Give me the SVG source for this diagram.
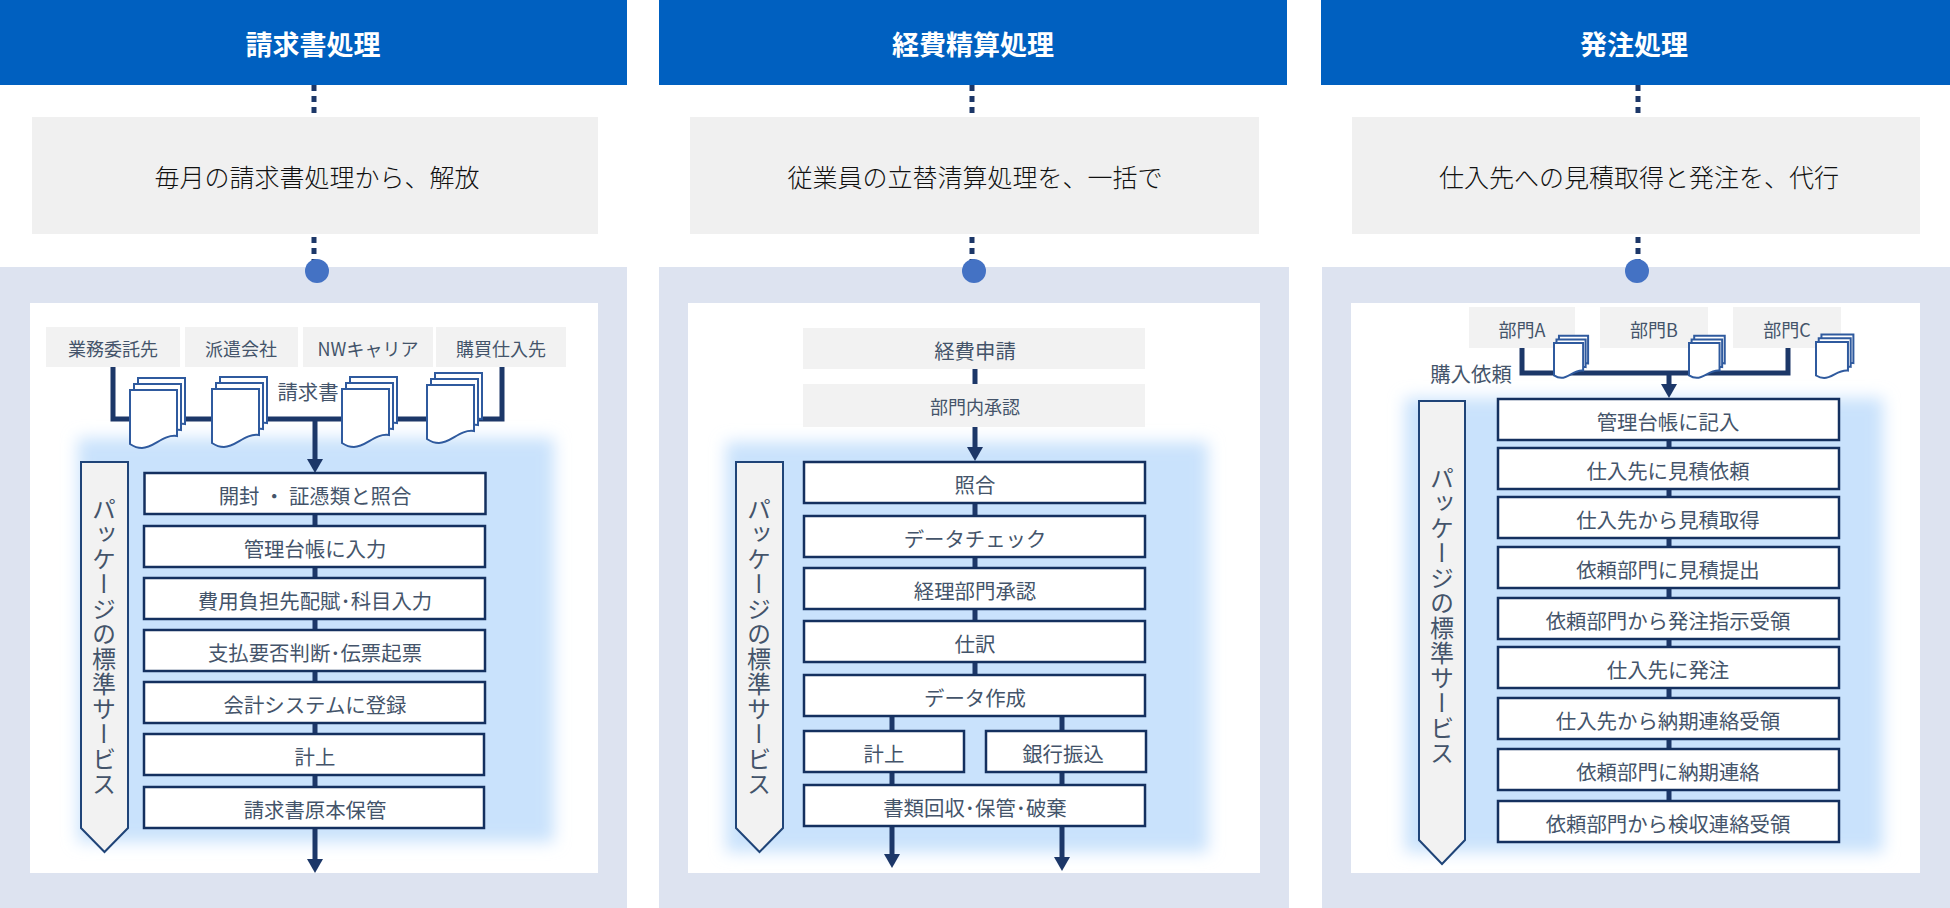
<svg xmlns="http://www.w3.org/2000/svg" width="1950" height="908" viewBox="0 0 1950 908">
<style>
text{font-family:"Noto Sans CJK JP","Noto Sans",sans-serif;text-anchor:middle;dominant-baseline:central}
.hd{fill:#0060c0}.hdt{fill:#fff;font-size:27px;font-weight:700}
.sub{fill:#f0f0f0}.subt{fill:#111;font-size:25px;font-weight:300}
.panel{fill:#dde3f0}.white{fill:#fff}.glow{fill:#c9e2fc;filter:url(#blur)}
.src{fill:#f2f2f2}.t{fill:#44546a;font-size:20.400px}.ts{fill:#44546a;font-size:18px}
.box{fill:#fff;stroke:#14305f;stroke-width:2.500}
.pkg{fill:#f2f2f2;stroke:#1f4478;stroke-width:2}
.pkgt{fill:#44546a;font-size:24px;writing-mode:vertical-rl;letter-spacing:1px}
.ln{fill:none;stroke:#1c3768;stroke-width:5}
.ar{fill:none;stroke:#1c3768;stroke-width:5;marker-end:url(#ah)}
.dot{fill:none;stroke:#1c3768;stroke-width:5;stroke-dasharray:6 5}
.circ{fill:#4472c4}
.sheet{fill:#fff;stroke:#2f5a9e;stroke-width:2;vector-effect:non-scaling-stroke}
</style>
<defs>
<filter id="blur" x="-15%" y="-15%" width="130%" height="130%"><feGaussianBlur stdDeviation="8"/></filter>
<marker id="ah" markerUnits="userSpaceOnUse" markerWidth="14" markerHeight="16" viewBox="0 0 14 16" refX="0" refY="8" orient="auto"><path d="M0 0L14 8L0 16Z" fill="#1c3768"/></marker>
<path id="sh" class="sheet" d="M0 0H47V46C33 44 24 58 12 58C7 58 3 56 0 54Z"/>
<g id="doc"><use href="#sh" x="8" y="-12"/><use href="#sh" x="4" y="-6"/><use href="#sh"/></g>
</defs>
<rect width="1950" height="908" fill="#fff"/>

<g id="backgrounds">
<rect class="panel" x="0" y="267" width="627" height="641"/>
<rect class="panel" x="659" y="267" width="630" height="641"/>
<rect class="panel" x="1322" y="267" width="628" height="641"/>
<rect class="white" x="30" y="303" width="568" height="570"/>
<rect class="white" x="688" y="303" width="572" height="570"/>
<rect class="white" x="1351" y="303" width="569" height="570"/>
<rect class="glow" x="78" y="438" width="476" height="404"/>
<rect class="glow" x="726" y="442" width="482" height="410"/>
<rect class="glow" x="1405" y="398" width="478" height="454"/>
</g>

<g id="connectors">
<path class="dot" d="M314 85V114M314 237V265"/>
<path class="dot" d="M972 85V114M972 237V265"/>
<path class="dot" d="M1638 85V114M1638 237V265"/>
<path class="ln" d="M113 367V419H502V367"/>
<path class="ar" d="M315 419V459"/>
<path class="ln" d="M315 514V786"/>
<path class="ar" d="M315 828V859"/>
<path class="ln" d="M975 369V384"/>
<path class="ar" d="M975 427V447"/>
<path class="ln" d="M975 504V675"/>
<path class="ln" d="M892 717V784M1062 717V784"/>
<path class="ar" d="M892 827V854"/>
<path class="ar" d="M1062 827V857"/>
<path class="ln" d="M1522 348V373H1788V348"/>
<path class="ar" d="M1669 373V384"/>
<path class="ln" d="M1669 440V801"/>
</g>

<g id="col1">
<g id="head1"><rect class="hd" x="0" y="0" width="627" height="85"/><text class="hdt" x="313" y="43">請求書処理</text></g>
<g id="sub1"><rect class="sub" x="32" y="117" width="566" height="117"/><text class="subt" x="317" y="176">毎月の請求書処理から、解放</text></g>
<ellipse id="dot1" class="circ" cx="317" cy="271" rx="12" ry="12"/>
<g id="s1a"><rect class="src" x="46" y="327" width="134" height="40"/><text class="ts" x="113" y="348">業務委託先</text></g>
<g id="s1b"><rect class="src" x="185" y="327" width="113" height="40"/><text class="ts" x="241" y="348">派遣会社</text></g>
<g id="s1c"><rect class="src" x="303" y="327" width="130" height="40"/><text class="ts" x="368" y="348">NWキャリア</text></g>
<g id="s1d"><rect class="src" x="436" y="327" width="130" height="40"/><text class="ts" x="501" y="348">購買仕入先</text></g>
<g id="docs1">
<use href="#doc" x="130" y="390"/><use href="#doc" x="212" y="389"/><use href="#doc" x="342" y="389"/><use href="#doc" x="427" y="385"/>
</g>
<text id="lbl1" class="t" x="308" y="391">請求書</text>
<g id="pkg1"><path class="pkg" d="M81 462H128V828L104.500 852L81 828Z"/><text class="pkgt" x="104" y="497" style="text-anchor:start">パッケージの標準サービス</text></g>
<g id="b11"><rect class="box" x="144.500" y="473" width="341" height="41"/><text class="t" x="315" y="495">開封 ・ 証憑類と照合</text></g>
<g id="b12"><rect class="box" x="144" y="526" width="341" height="41"/><text class="t" x="315" y="548">管理台帳に入力</text></g>
<g id="b13"><rect class="box" x="144" y="578" width="341" height="41"/><text class="t" x="315" y="600">費用負担先配賦･科目入力</text></g>
<g id="b14"><rect class="box" x="144" y="630" width="341" height="41"/><text class="t" x="315" y="652">支払要否判断･伝票起票</text></g>
<g id="b15"><rect class="box" x="144" y="682" width="341" height="41"/><text class="t" x="315" y="704">会計システムに登録</text></g>
<g id="b16"><rect class="box" x="144" y="734" width="340" height="41"/><text class="t" x="315" y="756">計上</text></g>
<g id="b17"><rect class="box" x="144" y="787" width="340" height="41"/><text class="t" x="315" y="809">請求書原本保管</text></g>
</g>

<g id="col2">
<g id="head2"><rect class="hd" x="659" y="0" width="628" height="85"/><text class="hdt" x="973" y="43">経費精算処理</text></g>
<g id="sub2"><rect class="sub" x="690" y="117" width="569" height="117"/><text class="subt" x="975" y="176">従業員の立替清算処理を、一括で</text></g>
<ellipse id="dot2" class="circ" cx="974" cy="271" rx="12" ry="12"/>
<g id="s2a"><rect class="src" x="803" y="328" width="342" height="41"/><text class="t" x="975" y="350">経費申請</text></g>
<g id="s2b"><rect class="src" x="803" y="384" width="342" height="43"/><text class="ts" x="975" y="406">部門内承認</text></g>
<g id="pkg2"><path class="pkg" d="M736 462H783V828L759.500 852L736 828Z"/><text class="pkgt" x="759" y="497" style="text-anchor:start">パッケージの標準サービス</text></g>
<g id="b21"><rect class="box" x="804" y="462" width="341" height="41"/><text class="t" x="975" y="484">照合</text></g>
<g id="b22"><rect class="box" x="804" y="516" width="341" height="41"/><text class="t" x="975" y="538">データチェック</text></g>
<g id="b23"><rect class="box" x="804" y="568" width="341" height="41"/><text class="t" x="975" y="590">経理部門承認</text></g>
<g id="b24"><rect class="box" x="804" y="621" width="341" height="41"/><text class="t" x="975" y="643">仕訳</text></g>
<g id="b25"><rect class="box" x="804" y="675" width="341" height="41"/><text class="t" x="975" y="697">データ作成</text></g>
<g id="b26"><rect class="box" x="804" y="731" width="160" height="41"/><text class="t" x="884" y="753">計上</text></g>
<g id="b27"><rect class="box" x="986" y="731" width="160" height="41"/><text class="t" x="1063" y="753">銀行振込</text></g>
<g id="b28"><rect class="box" x="804" y="785" width="341" height="41"/><text class="t" x="975" y="807">書類回収･保管･破棄</text></g>
</g>

<g id="col3">
<g id="head3"><rect class="hd" x="1321" y="0" width="629" height="85"/><text class="hdt" x="1634" y="43">発注処理</text></g>
<g id="sub3"><rect class="sub" x="1352" y="117" width="568" height="117"/><text class="subt" x="1639" y="176">仕入先への見積取得と発注を、代行</text></g>
<ellipse id="dot3" class="circ" cx="1637" cy="271" rx="12" ry="12"/>
<g id="s3a"><rect class="src" x="1469" y="307" width="106" height="41"/><text class="ts" x="1522" y="329">部門A</text></g>
<g id="s3b"><rect class="src" x="1600" y="307" width="108" height="41"/><text class="ts" x="1654" y="329">部門B</text></g>
<g id="s3c"><rect class="src" x="1733" y="307" width="108" height="41"/><text class="ts" x="1787" y="329">部門C</text></g>
<g id="docs3">
<use href="#doc" transform="translate(1554 343) scale(.62 .6)"/><use href="#doc" transform="translate(1689 343) scale(.65 .6)"/><use href="#doc" transform="translate(1816 342) scale(.68 .62)"/>
</g>
<text id="lbl3" class="t" x="1471" y="373">購入依頼</text>
<g id="pkg3"><path class="pkg" d="M1419 401H1465V840L1442 864L1419 840Z"/><text class="pkgt" x="1442" y="466" style="text-anchor:start">パッケージの標準サービス</text></g>
<g id="b31"><rect class="box" x="1498" y="399" width="341" height="41"/><text class="t" x="1668" y="421">管理台帳に記入</text></g>
<g id="b32"><rect class="box" x="1498" y="448" width="341" height="41"/><text class="t" x="1668" y="470">仕入先に見積依頼</text></g>
<g id="b33"><rect class="box" x="1498" y="497" width="341" height="41"/><text class="t" x="1668" y="519">仕入先から見積取得</text></g>
<g id="b34"><rect class="box" x="1498" y="547" width="341" height="41"/><text class="t" x="1668" y="569">依頼部門に見積提出</text></g>
<g id="b35"><rect class="box" x="1498" y="598" width="341" height="41"/><text class="t" x="1668" y="620">依頼部門から発注指示受領</text></g>
<g id="b36"><rect class="box" x="1498" y="647" width="341" height="41"/><text class="t" x="1668" y="669">仕入先に発注</text></g>
<g id="b37"><rect class="box" x="1498" y="698" width="341" height="41"/><text class="t" x="1668" y="720">仕入先から納期連絡受領</text></g>
<g id="b38"><rect class="box" x="1498" y="749" width="341" height="41"/><text class="t" x="1668" y="771">依頼部門に納期連絡</text></g>
<g id="b39"><rect class="box" x="1498" y="801" width="341" height="41"/><text class="t" x="1668" y="823">依頼部門から検収連絡受領</text></g>
</g>
</svg>
